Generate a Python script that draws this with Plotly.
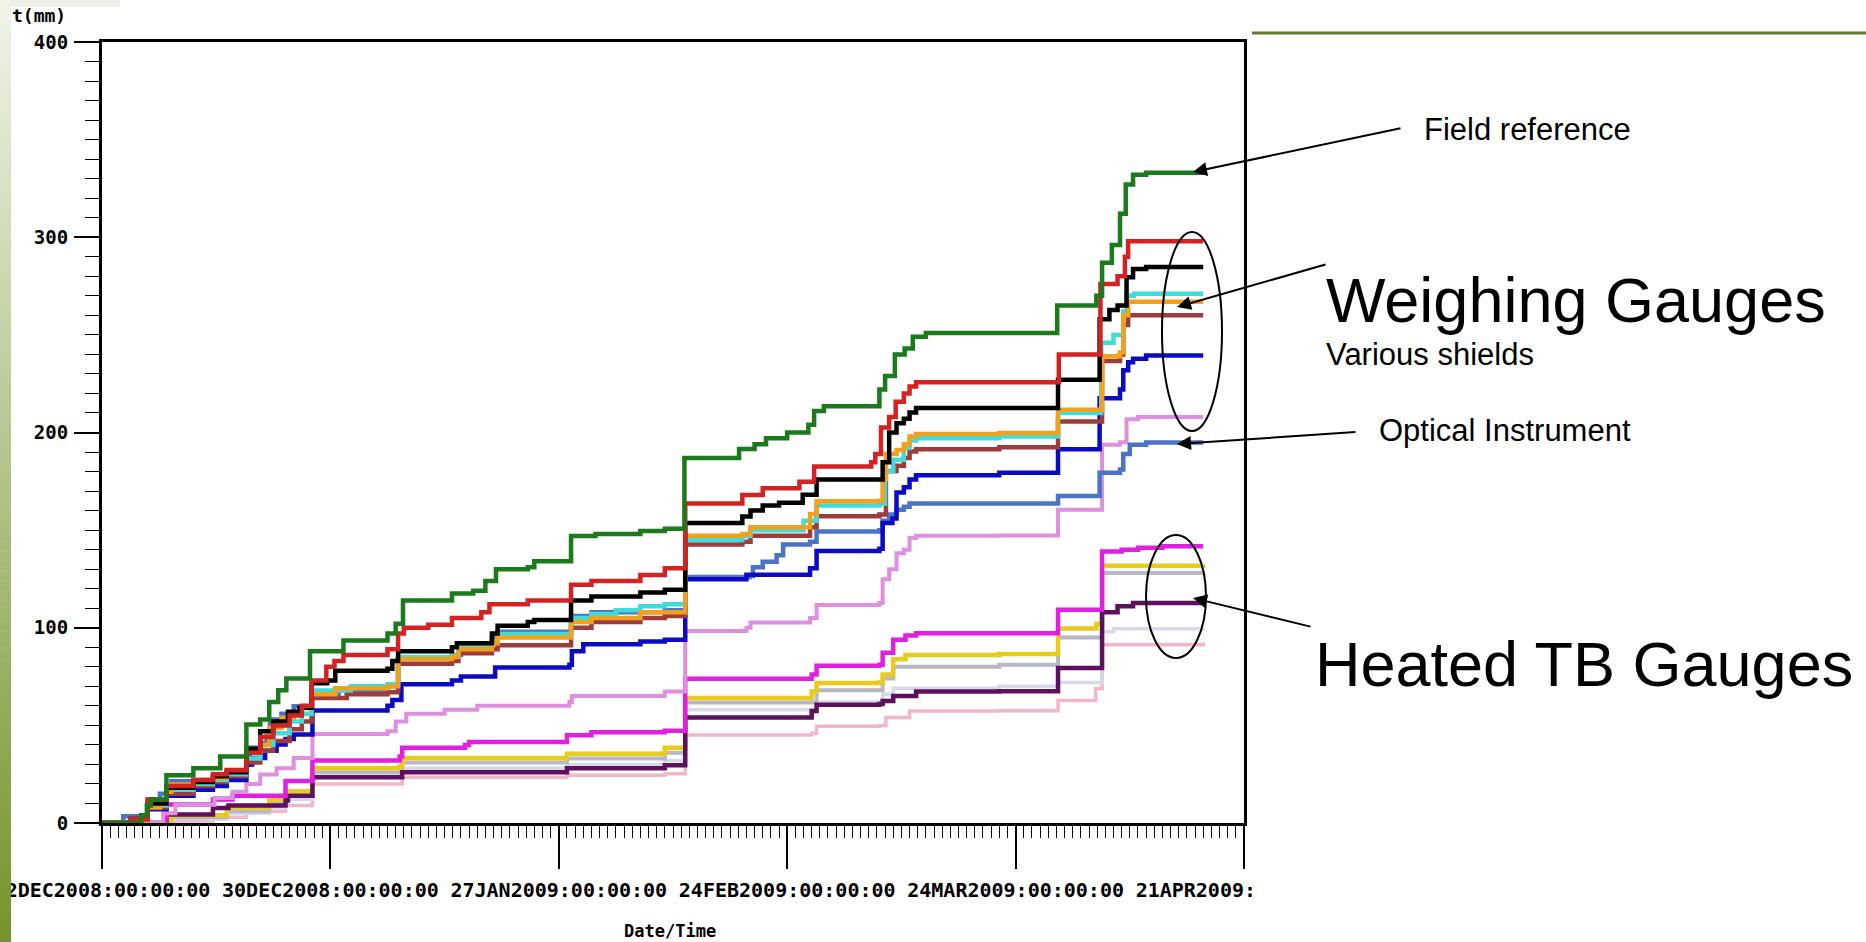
import pandas as pd
import plotly.graph_objects as go

# ---------------------------------------------------------------- data
START = pd.Timestamp("2008-12-02")
END = pd.Timestamp("2009-04-21")

# accumulated precipitation (mm); pairs are (days since START, total mm)
field_reference = [(0, 0), (4.8, 4), (5.5, 9), (6.0, 12), (7.9, 24.5), (11.2, 28), (14.5, 34), (17.7, 50.5),
                   (19.4, 53), (20.5, 62), (21.6, 68), (22.6, 74), (25.5, 88), (29.6, 93.5), (35.0, 97),
                   (36.0, 102), (36.9, 114), (42.9, 117.5), (45.5, 119), (47.0, 124), (48.3, 130), (52.2, 131),
                   (53.0, 134), (57.5, 147), (60.5, 148), (66.0, 149.5), (69.0, 150.7), (71.4, 187), (78.1, 191.5),
                   (80.0, 194), (81.4, 197), (84.0, 200), (86.6, 204), (87.3, 211), (88.5, 213.5), (95.3, 222),
                   (96.0, 229), (97.2, 240), (98.4, 243), (99.4, 249), (101.0, 251), (117.1, 265), (121.9, 270),
                   (122.6, 287), (123.8, 296), (124.8, 312), (125.5, 327), (126.4, 332), (128.0, 333), (135.0, 333)]

weighing_red = [(0, 0), (3.5, 2), (5.6, 12), (7.9, 19), (11.2, 22), (13.6, 25), (15.3, 27), (17.7, 36), (19.4, 44),
                (21.0, 50), (23.0, 55), (24.5, 60), (25.7, 73), (27.5, 80), (28.5, 83), (29.6, 86), (35.0, 89),
                (36.3, 97), (37.0, 100), (40.0, 101.5), (42.9, 105), (46.5, 108), (47.5, 112), (52.2, 114),
                (57.5, 122), (60.0, 124), (66.0, 127), (69.0, 130.5), (71.5, 163.7), (78.5, 168), (81.0, 171.5),
                (85.5, 174.8), (87.3, 182.6), (94.3, 184.8), (94.8, 189), (95.5, 202.5), (96.5, 208), (97.3, 215.8),
                (98.3, 220), (99.0, 223.6), (99.8, 225.8), (117.3, 240), (122.4, 276), (124.5, 280), (125.4, 290),
                (125.8, 298), (135.0, 298)]

weighing_black = [(0, 0), (3.5, 2), (5.6, 10), (7.9, 18), (11.2, 21), (13.6, 24), (15.3, 26), (17.7, 38), (19.4, 47),
                  (21.0, 52), (22.8, 57), (24.2, 59), (25.7, 71.6), (27.6, 73), (28.6, 78), (35.0, 79), (35.6, 83),
                  (36.3, 88), (42.9, 90), (43.5, 92), (47.8, 97), (48.5, 101), (52.2, 103), (53.0, 104),
                  (57.5, 114), (60.0, 116), (66.0, 118), (69.0, 119.4), (71.5, 153.7), (78.5, 157), (79.5, 160),
                  (81.0, 162.6), (83.0, 164), (85.9, 168.1), (87.6, 175.9), (95.7, 184.8), (96.5, 200),
                  (97.4, 204.7), (98.3, 207), (99.0, 210.3), (99.8, 212.5), (117.2, 227), (122.3, 258),
                  (123.5, 262.8), (124.5, 265), (125.6, 279.5), (126.4, 283.8), (128.0, 284.7), (135.0, 284.7)]

weighing_cyan = [(0, 0), (3.5, 1), (5.6, 9), (7.9, 17), (11.2, 20), (13.6, 22), (15.3, 25), (17.7, 33), (19.4, 40),
                 (21.0, 46), (23.0, 52), (24.5, 56), (25.7, 67.8), (30.5, 70), (35.0, 71), (36.3, 85), (42.9, 86),
                 (43.7, 91), (47.8, 93), (48.5, 96.8), (57.5, 105), (60.0, 107), (63.0, 109), (66.0, 111),
                 (69.0, 112), (71.5, 144.9), (78.5, 147), (79.5, 150), (86.0, 154.8), (87.6, 162.6), (95.3, 163.5),
                 (96.0, 180), (97.0, 186), (98.3, 192), (99.0, 195.9), (99.8, 197), (110.0, 198), (117.2, 210),
                 (122.5, 246), (124.0, 250), (125.2, 262), (125.6, 270), (126.5, 271), (135.0, 271)]

weighing_orange = [(0, 0), (3.5, 1), (5.6, 8), (7.1, 10), (7.9, 16), (8.5, 19.7), (11.2, 21), (13.6, 23),
                   (15.3, 27.3), (17.7, 36.8), (19.4, 40), (20.5, 48.7), (22.0, 53.9), (23.5, 56), (24.5, 58.9),
                   (25.7, 66), (28.6, 69), (35.0, 70), (36.3, 84), (42.9, 85), (43.7, 89), (47.8, 92), (48.5, 95),
                   (57.5, 103), (60.0, 105), (66.0, 108), (71.5, 147.1), (78.5, 148), (79.5, 151.5), (86.8, 158.2),
                   (87.6, 164.8), (95.3, 165), (95.7, 176), (96.1, 189), (97.4, 191), (98.3, 194), (99.0, 198),
                   (99.8, 199.2), (110.0, 199.7), (117.2, 211.6), (122.6, 239), (124.8, 241), (125.2, 260),
                   (125.8, 267), (135.0, 267)]

weighing_brown = [(0, 0), (3.5, 1), (5.6, 8), (7.9, 15), (11.2, 19), (13.6, 21), (15.3, 24), (17.7, 31), (19.4, 37),
                  (21.0, 42), (23.0, 48), (24.5, 52), (25.7, 64), (30.0, 66), (35.0, 67), (36.3, 81.5), (42.9, 83),
                  (43.7, 87), (47.8, 89), (48.5, 91), (57.5, 100), (60.0, 103), (66.0, 105), (69.0, 106),
                  (71.5, 142.7), (78.5, 144), (79.5, 147.1), (86.8, 151.5), (87.6, 157.1), (95.3, 158),
                  (96.1, 180.3), (97.4, 183), (98.3, 187), (99.0, 190.3), (99.8, 191.4), (110.0, 192.5),
                  (117.2, 205.6), (122.6, 236.6), (124.8, 240), (125.2, 255), (125.8, 260), (135.0, 260)]

weighing_blue = [(0, 0), (3.5, 1), (5.6, 7), (7.9, 14), (11.2, 17), (13.6, 19), (15.3, 22), (17.7, 30), (18.4, 33.3),
                 (20.0, 37), (21.4, 40.2), (22.5, 43), (23.5, 45.3), (25.8, 57.6), (35.0, 60), (35.6, 63),
                 (36.7, 71), (42.9, 73), (44.0, 75), (48.2, 79.7), (57.3, 81), (57.6, 88), (59.0, 91.6), (66.0, 93),
                 (69.0, 93.9), (71.5, 124.9), (79.0, 127.1), (86.8, 130.5), (87.6, 139.3), (95.3, 140.4),
                 (95.7, 153.7), (96.9, 156), (97.4, 169.3), (98.3, 172), (99.0, 175.9), (99.8, 178.1),
                 (110.0, 179.4), (117.2, 191.4), (122.3, 217.6), (124.8, 222), (125.2, 231.9), (125.8, 236),
                 (126.4, 237.8), (128.0, 239.5), (135.0, 239.5)]

optical = [(0, 0), (2.6, 3.4), (5.6, 12), (7.1, 15), (7.9, 18.8), (8.5, 21.4), (11.2, 22), (15.3, 27), (17.7, 30),
           (18.1, 38.5), (19.4, 41), (20.2, 44.5), (20.6, 53), (22.0, 56), (23.5, 59.8), (25.8, 66), (29.0, 68),
           (35.0, 70), (36.3, 84), (42.9, 86), (44.0, 90), (47.8, 95), (48.5, 98), (57.5, 106), (60.0, 108),
           (69.0, 109), (71.5, 126), (79.4, 126.5), (79.8, 131), (81.0, 133.8), (82.7, 137.1), (83.5, 142.6),
           (86.8, 144), (87.6, 149.3), (95.3, 150), (95.7, 154.8), (96.5, 158), (97.4, 160.4), (98.3, 162),
           (99.0, 163.7), (117.2, 167.5), (122.3, 179.4), (124.8, 181), (125.2, 189), (126.0, 193.7),
           (128.0, 194.9), (135.0, 194.9)]

weighing_plum = [(0, 0), (7.5, 5), (9.0, 9.4), (13.8, 12.8), (16.0, 16), (17.7, 20), (19.4, 24.8), (21.4, 28),
                 (23.5, 33.3), (25.8, 45.6), (35.0, 47), (36.0, 52), (37.3, 56), (42.0, 58), (46.0, 60), (57.3, 62),
                 (57.6, 65), (69.0, 67.3), (71.5, 98.3), (79.0, 100), (79.5, 102.7), (86.8, 105), (87.6, 111.6),
                 (95.3, 112.7), (95.7, 124.9), (96.5, 130), (97.4, 138.2), (98.3, 140), (99.0, 146), (99.8, 147.1),
                 (110.0, 147.3), (117.2, 160.4), (122.6, 193.7), (124.8, 195), (125.6, 206.8), (127.0, 208),
                 (135.0, 208)]

tb_magenta = [(0, 0), (7.9, 9.5), (13.6, 12), (16.0, 14), (22.5, 21.5), (25.8, 32), (36.5, 34), (36.8, 38.5),
              (44.5, 40), (45.0, 41.5), (57.0, 45), (60.0, 46.5), (69.0, 47.3), (71.5, 73.9), (87.0, 76.1),
              (87.6, 80.6), (95.3, 81), (95.7, 87.2), (97.0, 93.9), (98.5, 96), (99.8, 97.2), (117.2, 109.2),
              (122.6, 139), (125.0, 140), (127.0, 141), (130.0, 141.8), (135.0, 141.8)]

tb_yellow = [(0, 0), (8.5, 4), (15.3, 8), (20.5, 12), (22.5, 16.2), (25.8, 28.2), (36.5, 29), (36.8, 33.3),
             (57.0, 35.5), (69.0, 38.5), (71.5, 64), (87.0, 67.3), (87.6, 71.7), (95.3, 72), (95.7, 76), (97.0, 83.9),
             (98.5, 86), (110.0, 86.6), (117.2, 99.6), (121.9, 102), (122.6, 131.8), (135.0, 132.5)]

tb_gray = [(0, 0), (8.5, 3), (15.3, 6), (20.5, 10), (22.5, 14), (25.8, 26), (36.8, 31), (57.0, 33), (69.0, 36),
           (71.5, 61.7), (87.6, 68), (95.7, 74), (97.0, 80), (110.0, 81), (117.2, 95), (122.6, 128), (135.0, 128.2)]

tb_lavender = [(0, 0), (8.5, 2), (15.3, 5), (20.5, 8), (22.5, 12), (25.8, 24), (36.8, 28), (57.0, 30), (69.0, 32),
               (71.5, 58), (87.6, 62), (95.7, 66), (97.0, 69), (110.0, 70), (117.2, 72), (122.6, 98), (124.0, 99.5),
               (135.0, 100)]

tb_purple = [(0, 0), (7.9, 4.3), (13.6, 7.7), (15.5, 9), (22.5, 11.5), (22.8, 14), (25.8, 23.4), (36.8, 26),
             (57.0, 28), (69.0, 29.6), (71.5, 54), (87.0, 57.3), (87.6, 60.6), (95.3, 61), (95.7, 62.5), (97.0, 65),
             (99.8, 67.3), (110.0, 67.5), (117.2, 79.4), (122.6, 108), (124.5, 111), (126.4, 112.7), (135.0, 113.2)]

tb_pink = [(0, 0), (7.9, 1), (13.6, 3), (17.7, 6), (22.5, 9), (25.8, 20), (36.8, 23.4), (57.0, 24.5), (69.0, 25.2),
           (71.5, 45.1), (87.0, 46), (87.6, 49.6), (95.3, 50), (96.1, 54), (99.0, 57.3), (110.0, 57.5),
           (117.2, 62.7), (121.8, 68.7), (122.6, 91.3), (135.0, 92.5)]

x_tick_dates = ["2008-12-02", "2008-12-30", "2009-01-27", "2009-02-24", "2009-03-24", "2009-04-21"]
x_tick_labels = ["02DEC2008:00:00:00", "30DEC2008:00:00:00", "27JAN2009:00:00:00",
                 "24FEB2009:00:00:00", "24MAR2009:00:00:00", "21APR2009:00:00:00"]
y_tick_values = [0, 100, 200, 300, 400]
y_tick_labels = ["0", "100", "200", "300", "400"]

# ------------------------------------------------------------- styling
# drawing order: bottom first
series = [
    (tb_pink, "#f2b6c6", 3.5),
    (tb_lavender, "#d6d9ea", 3.5),
    (tb_gray, "#b8b8c0", 4.0),
    (tb_yellow, "#e8cc1c", 4.5),
    (tb_purple, "#5e0f5e", 4.5),
    (tb_magenta, "#e11fe1", 4.5),
    (weighing_plum, "#df8fdf", 4.0),
    (optical, "#4b73c6", 4.5),
    (weighing_blue, "#0b0bc4", 4.5),
    (weighing_brown, "#9e3b3b", 4.5),
    (weighing_cyan, "#3fdcdc", 4.5),
    (weighing_orange, "#f0a21e", 4.5),
    (weighing_black, "#000000", 4.5),
    (weighing_red, "#d42222", 4.5),
    (field_reference, "#1b7a1b", 4.5),
]

W, H = 1866, 942
PL, PR, PT, PB = 102, 1244, 42, 823   # frame edges in page pixels


def px(x):
    return (x - PL) / (PR - PL)


def py(y):
    return (PB - y) / (PB - PT)


fig = go.Figure()
for pts, color, width in series:
    fig.add_trace(go.Scatter(
        x=[START + pd.Timedelta(days=d) for d, _ in pts],
        y=[v for _, v in pts],
        mode="lines", line=dict(color=color, width=width, shape="hv"),
        showlegend=False, hoverinfo="skip",
    ))

mono = dict(family="DejaVu Sans Mono", color="black", weight="bold")
sans = "Liberation Sans, Arial, sans-serif"

fig.update_xaxes(
    type="date", range=[START, END], automargin=False,
    tickmode="array", tickvals=x_tick_dates, ticktext=x_tick_labels,
    ticks="outside", ticklen=43, tickwidth=1.6, tickcolor="black",
    minor=dict(ticks="outside", ticklen=12, tickwidth=1.4, tickcolor="black",
               dtick=86400000, tick0="2008-12-02", showgrid=False),
    tickfont=dict(size=20, **mono), ticklabelstandoff=4, ticklabeloverflow="allow",
    showline=True, linewidth=3, linecolor="black", mirror=True,
    showgrid=False, zeroline=False,
)
fig.update_yaxes(
    range=[0, 400], automargin=False,
    tickmode="array", tickvals=y_tick_values, ticktext=y_tick_labels,
    ticks="outside", ticklen=25, tickwidth=1.6, tickcolor="black",
    minor=dict(ticks="outside", ticklen=14, tickwidth=1.4, tickcolor="black",
               dtick=10, tick0=0, showgrid=False),
    tickfont=dict(size=19, **mono), ticklabelstandoff=2,
    showline=True, linewidth=3, linecolor="black", mirror=True,
    showgrid=False, zeroline=False,
)

shapes = []
# olive side strip of the slide, shading from pale at the top to olive at the bottom
top_rgb, bot_rgb = (240, 243, 232), (118, 148, 44)
bands = 94
for i in range(bands):
    t = i / (bands - 1)
    c = tuple(round(a + (b - a) * t) for a, b in zip(top_rgb, bot_rgb))
    y0 = i * H / bands
    shapes.append(dict(type="rect", xref="paper", yref="paper", layer="above",
                       x0=px(0), x1=px(11), y0=py(y0 + H / bands + 0.5), y1=py(y0),
                       fillcolor="rgb(%d,%d,%d)" % c, line=dict(width=0)))
# pale corner band top-left
shapes.append(dict(type="rect", xref="paper", yref="paper", layer="above",
                   x0=px(11), x1=px(120), y0=py(7), y1=py(0),
                   fillcolor="#eeefe8", line=dict(width=0)))
# slide area to the right of the chart
shapes.append(dict(type="rect", xref="paper", yref="paper", layer="above",
                   x0=px(1252), x1=px(W), y0=py(H), y1=py(858),
                   fillcolor="white", line=dict(width=0)))
# title rule
shapes.append(dict(type="line", xref="paper", yref="paper", layer="above",
                   x0=px(1252), x1=px(W), y0=py(33), y1=py(33),
                   line=dict(color="#5f7d2a", width=3)))
# group ellipses
shapes.append(dict(type="circle", xref="paper", yref="paper", layer="above",
                   x0=px(1162), x1=px(1222), y0=py(431), y1=py(232),
                   line=dict(color="black", width=2)))
shapes.append(dict(type="circle", xref="paper", yref="paper", layer="above",
                   x0=px(1146), x1=px(1206), y0=py(658), y1=py(535),
                   line=dict(color="black", width=2)))

annotations = []


def label(text, x, y, size, family, anchor="left", weight="normal"):
    annotations.append(dict(text=text, x=px(x), y=py(y), xref="paper", yref="paper",
                            xanchor=anchor, yanchor="middle", showarrow=False,
                            font=dict(size=size, family=family, color="black", weight=weight)))


def arrow(tail, head):
    annotations.append(dict(text="", x=px(head[0]), y=py(head[1]), xref="paper", yref="paper",
                            ax=tail[0] - head[0], ay=tail[1] - head[1], axref="pixel", ayref="pixel",
                            showarrow=True, arrowhead=2, arrowsize=1.4, arrowwidth=2,
                            arrowcolor="black", standoff=0, startstandoff=0))


label("t(mm)", 10, 15, 18, "DejaVu Sans Mono", weight="bold")
label("Date/Time", 670, 931, 17, "DejaVu Sans Mono", anchor="center", weight="bold")
label("Field reference", 1422, 129, 31, sans)
label("Weighing Gauges", 1324, 300, 63, sans)
label("Various shields", 1324, 354, 31, sans)
label("Optical Instrument", 1377, 430, 31, sans)
label("Heated TB Gauges", 1313, 664, 63, sans)

arrow((1402, 128), (1193, 172))
arrow((1327, 264), (1177, 307))
arrow((1357, 432), (1177, 444))
arrow((1312, 627), (1193, 598))

fig.update_layout(
    width=W, height=H, autosize=False,
    margin=dict(l=PL, r=W - PR, t=PT, b=H - PB, pad=0, autoexpand=False),
    paper_bgcolor="white", plot_bgcolor="white",
    shapes=shapes, annotations=annotations,
    showlegend=False,
)

fig.write_html("out.html")
